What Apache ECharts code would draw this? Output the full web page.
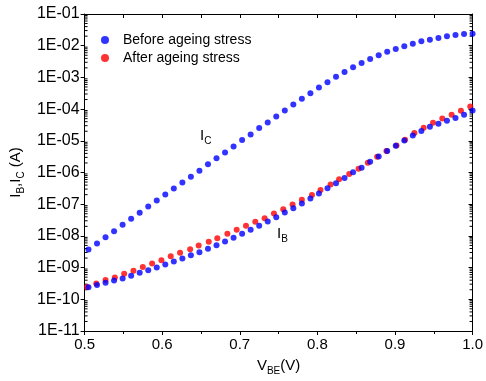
<!DOCTYPE html>
<html><head><meta charset="utf-8">
<script src="https://cdn.jsdelivr.net/npm/echarts@6/dist/echarts.min.js"></script>
<style>html,body{margin:0;padding:0;background:#fff}#c{width:486px;height:381px}</style>
</head><body><div id="c"></div>
<script>
// V_BE values (V) of the "before ageing stress" measurement
const vbeBefore = [0.505,0.516,0.527,0.538,0.549,0.560,0.571,0.582,0.593,0.604,0.615,0.626,0.637,0.648,0.659,0.670,0.681,0.692,0.703,0.714,0.725,0.736,0.747,0.758,0.769,0.780,0.791,0.802,0.813,0.824,0.835,0.846,0.857,0.868,0.879,0.890,0.901,0.912,0.923,0.934,0.945,0.956,0.967,0.978,0.989,1.000];
// I_C before ageing (A)
const icBefore = [3.73e-9,5.75e-9,9.1e-9,1.41e-8,2.23e-8,3.45e-8,5.33e-8,8.41e-8,1.30e-7,2.01e-7,3.10e-7,4.80e-7,7.40e-7,1.14e-6,1.81e-6,2.79e-6,4.31e-6,6.65e-6,1.06e-5,1.59e-5,2.52e-5,3.79e-5,5.85e-5,9.03e-5,1.40e-4,2.11e-4,3.19e-4,4.79e-4,7.08e-4,1.04e-3,1.49e-3,2.10e-3,2.87e-3,3.84e-3,5.01e-3,6.50e-3,7.91e-3,9.61e-3,1.16e-2,1.38e-2,1.55e-2,1.76e-2,1.99e-2,2.18e-2,2.35e-2,2.40e-2];
// I_B before ageing (A)
const ibBefore = [2.38e-10,2.81e-10,3.34e-10,3.94e-10,4.56e-10,5.55e-10,6.89e-10,8.32e-10,1.01e-9,1.26e-9,1.56e-9,1.94e-9,2.47e-9,3.07e-9,3.93e-9,5.09e-9,6.65e-9,8.71e-9,1.16e-8,1.56e-8,2.08e-8,2.84e-8,3.87e-8,5.45e-8,7.45e-8,1.05e-7,1.50e-7,2.16e-7,3.17e-7,4.56e-7,6.75e-7,1.01e-6,1.42e-6,2.20e-6,3.22e-6,4.76e-6,7.00e-6,1.03e-5,1.48e-5,2.03e-5,2.77e-5,3.45e-5,4.29e-5,5.21e-5,6.62e-5,9.03e-5];
// V_BE values (V) of the "after ageing stress" measurement
const vbeAfter = [0.503,0.515,0.527,0.539,0.551,0.563,0.575,0.587,0.599,0.611,0.623,0.636,0.647,0.660,0.671,0.684,0.696,0.708,0.720,0.732,0.744,0.756,0.768,0.780,0.793,0.804,0.817,0.828,0.841,0.853,0.865,0.877,0.889,0.902,0.913,0.925,0.937,0.949,0.961,0.973,0.985,0.997];
// I_B after ageing (A)
const ibAfter = [2.43e-10,3.17e-10,4.03e-10,4.90e-10,6.41e-10,7.96e-10,1.04e-9,1.35e-9,1.72e-9,2.30e-9,2.94e-9,3.81e-9,4.99e-9,6.52e-9,8.45e-9,1.16e-8,1.56e-8,2.08e-8,2.78e-8,3.61e-8,5.07e-8,6.92e-8,9.73e-8,1.37e-7,1.96e-7,2.82e-7,4.15e-7,6.08e-7,9.0e-7,1.32e-6,2.04e-6,3.15e-6,4.76e-6,7.16e-6,1.08e-5,1.76e-5,2.58e-5,3.71e-5,5.06e-5,6.62e-5,8.85e-5,1.21e-4];

const seriesNames = ['Before ageing stress', 'After ageing stress'];
const xTickLabels = ['0.5','0.6','0.7','0.8','0.9','1.0'];
const yTickLabels = ['1E-11','1E-10','1E-09','1E-08','1E-07','1E-06','1E-05','1E-04','1E-03','1E-02','1E-01'];
// minor tick mantissas within each decade of the log axis
const minorMantissas = [2, 3, 4, 5, 6, 7, 8, 9];

const FONT = 'Liberation Sans, Arial, sans-serif';
const subRich = {
  m: {fontSize: 15, fontFamily: FONT, color: '#000', lineHeight: 18, verticalAlign: 'top'},
  s: {fontSize: 10, fontFamily: FONT, color: '#000', lineHeight: 10, verticalAlign: 'bottom'}
};

const beforeData = vbeBefore.map((v, i) => [v, icBefore[i]])
  .concat(vbeBefore.map((v, i) => [v, ibBefore[i]]));
const afterData = vbeAfter.map((v, i) => [v, ibAfter[i]]);

// axis minor tick positions (decorations of the log axis, not data)
const minorTickVals = [];
for (let e = -11; e < -1; e++) {
  minorMantissas.forEach(m => minorTickVals.push([m * Math.pow(10, e)]));
}

const axisLine = {show: true, onZero: false, lineStyle: {color: '#000', width: 1}};
const logY = {type: 'log', logBase: 10, min: 1e-11, max: 1e-1, interval: 1, splitNumber: 10, splitLine: {show: false}};

const chart = echarts.init(document.getElementById('c'), null, {renderer: 'canvas'});
chart.setOption({
  animation: false,
  backgroundColor: '#fff',
  textStyle: {fontFamily: FONT},
  grid: {left: 80, right: 10, top: 14, bottom: 49, containLabel: false},
  legend: {
    data: seriesNames,
    orient: 'vertical',
    left: 96, top: 27,
    itemWidth: 8, itemHeight: 8, itemGap: 2,
    icon: 'circle',
    textStyle: {fontSize: 14, color: '#000', fontFamily: FONT, lineHeight: 16, padding: [0, 0, 0, 9]}
  },
  xAxis: [
    {
      type: 'value', position: 'bottom', min: 0.5, max: 1.0, interval: 0.1,
      axisLine: axisLine,
      axisTick: {show: true, inside: false, length: 4, lineStyle: {color: '#000'}},
      minorTick: {show: true, splitNumber: 2, length: 3, lineStyle: {color: '#000'}},
      splitLine: {show: false},
      axisLabel: {fontSize: 15, color: '#000', margin: 6, fontFamily: FONT,
        formatter: v => xTickLabels[Math.round((v - 0.5) * 10)]},
      name: '{m|V}{s|BE}{m|(V)}',
      nameLocation: 'middle', nameGap: 27,
      nameTextStyle: {rich: subRich}
    },
    {
      type: 'value', position: 'top', min: 0.5, max: 1.0, interval: 0.05,
      axisLine: axisLine,
      axisTick: {show: true, inside: true, length: 4, lineStyle: {color: '#000'}},
      axisLabel: {show: false}, splitLine: {show: false}
    }
  ],
  yAxis: [
    Object.assign({}, logY, {
      position: 'left',
      axisLine: axisLine,
      axisTick: {show: true, inside: false, length: 4, lineStyle: {color: '#000'}},
      axisLabel: {fontSize: 16, color: '#000', margin: 5, fontFamily: FONT,
        formatter: v => yTickLabels[Math.round(Math.log10(v)) + 11]},
      name: '{m|I}{s|B}{m|,I}{s|C}{m| (A)}',
      nameLocation: 'middle', nameGap: 56, nameRotate: 90,
      nameTextStyle: {rich: subRich}
    }),
    Object.assign({}, logY, {
      position: 'right',
      axisLine: axisLine,
      axisTick: {show: true, inside: true, length: 4, lineStyle: {color: '#000'}},
      axisLabel: {show: false}
    })
  ],
  graphic: [
    {type: 'text', left: 200, top: 128, style: {text: '{m|I}{s|C}', rich: subRich}},
    {type: 'text', left: 277, top: 226, style: {text: '{m|I}{s|B}', rich: subRich}}
  ],
  series: [
    {
      name: 'minorTicks', type: 'custom', xAxisIndex: 0, yAxisIndex: 0,
      silent: true, clip: false, legendHoverLink: false,
      data: minorTickVals,
      encode: {y: 0},
      renderItem: function (params, api) {
        const y = api.coord([0.5, api.value(0)])[1];
        const x0 = api.coord([0.5, 1e-6])[0];
        const x1 = api.coord([1.0, 1e-6])[0];
        const st = {stroke: '#000', lineWidth: 1};
        return {
          type: 'group',
          children: [
            {type: 'line', shape: {x1: x0, y1: y, x2: x0 + 3, y2: y}, style: st},
            {type: 'line', shape: {x1: x1 - 3, y1: y, x2: x1, y2: y}, style: st}
          ]
        };
      }
    },
    {
      name: seriesNames[1], type: 'scatter', xAxisIndex: 0, yAxisIndex: 0,
      symbol: 'circle', symbolSize: 6,
      itemStyle: {color: '#ff0000'},
      data: afterData
    },
    {
      name: seriesNames[0], type: 'scatter', xAxisIndex: 0, yAxisIndex: 0,
      symbol: 'circle', symbolSize: 6,
      itemStyle: {color: '#0000ff'},
      data: beforeData
    }
  ]
});
</script>
</body></html>
